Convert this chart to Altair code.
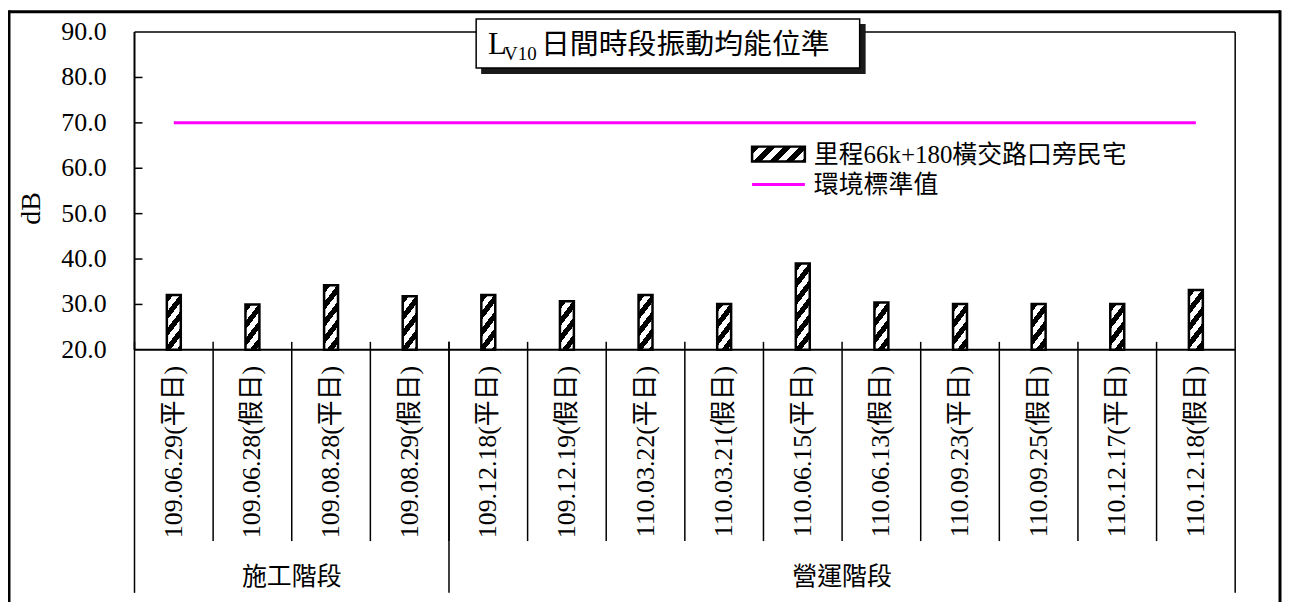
import math
import altair as alt
import pandas as pd

# ---------------- data ----------------
dates = [
    "109.06.29(平日)", "109.06.28(假日)", "109.08.28(平日)", "109.08.29(假日)",
    "109.12.18(平日)", "109.12.19(假日)", "110.03.22(平日)", "110.03.21(假日)",
    "110.06.15(平日)", "110.06.13(假日)", "110.09.23(平日)", "110.09.25(假日)",
    "110.12.17(平日)", "110.12.18(假日)",
]
values = [32.1, 30.0, 34.2, 31.8, 32.1, 30.7, 32.1, 30.1, 39.0, 30.4, 30.1, 30.1, 30.1, 33.2]
phases = ["施工階段"] * 4 + ["營運階段"] * 10
phase_names = ["施工階段", "營運階段"]
phase_anchor = [dates[2], dates[9]]       # boundary at centre of each group
group_starts = [dates[0], dates[4]]
std_value = 70
y_ticks = [20, 30, 40, 50, 60, 70, 80, 90]
inner_ticks = [30, 40, 50, 60, 70, 80]
series_name = "里程66k+180橫交路口旁民宅"
std_name = "環境標準值"
title_main = "L"
title_sub = "V10"
title_rest = "日間時段振動均能位準"
y_title = "dB"

# ---------------- layout ----------------
PLOT_W, PLOT_H = 1105, 319
Y_MIN, Y_MAX = 20, 90
BAR_W = 14
PX_PER_DB = PLOT_H / (Y_MAX - Y_MIN)
SERIF = "Liberation Serif"
MIXED = "Liberation Serif, Noto Sans CJK TC"
CJK = "Noto Sans CJK TC"


def hatch(W, H, m=1.3, P=17.0):
    """Diagonal '/' stripe fill built from a sharp-stop linear gradient."""
    A = m * W
    L = A + H
    k = L / (A * A + H * H)
    gx, gy = k * A, k * H
    half = P / 2.0
    n = int(math.ceil(L / half))
    stops = []
    for j in range(n):
        c = "black" if j % 2 == 0 else "white"
        o1 = min(j * half / L, 1.0)
        o2 = min((j + 1) * half / L, 1.0)
        stops.append({"offset": round(o1, 4), "color": c})
        stops.append({"offset": round(o2, 4), "color": c})
    return {"gradient": "linear", "x1": 0, "y1": 0, "x2": gx, "y2": gy, "stops": stops}


df = pd.DataFrame({"date": dates, "value": values, "phase": phases,
                   "std": [std_value] * len(dates)})

xscale = alt.Scale(domain=dates, paddingInner=0, paddingOuter=0)
yscale = alt.Scale(domain=[Y_MIN, Y_MAX], nice=False, zero=False)

conds = []
for d, v in zip(dates, values):
    conds.append({"test": "datum.date === '%s'" % d,
                  "value": hatch(BAR_W, (v - Y_MIN) * PX_PER_DB)})

dummy = alt.Data(values=[{"a": 1}])

# frame lines
frame_top = alt.Chart(dummy).mark_rule(color="black", strokeWidth=1.5).encode(
    x=alt.value(0), x2=alt.value(PLOT_W), y=alt.value(0))
frame_left = alt.Chart(dummy).mark_rule(color="black", strokeWidth=2).encode(
    x=alt.value(0), y=alt.value(0), y2=alt.value(PLOT_H))
frame_right = alt.Chart(dummy).mark_rule(color="black", strokeWidth=1.5).encode(
    x=alt.value(PLOT_W), y=alt.value(0), y2=alt.value(PLOT_H + 244))
frame_bottom = alt.Chart(dummy).mark_rule(color="black", strokeWidth=2).encode(
    x=alt.value(0), x2=alt.value(PLOT_W), y=alt.value(PLOT_H))

# y axis: inward ticks and labels
yt = alt.Chart(pd.DataFrame({"t": inner_ticks})).mark_rule(color="black", strokeWidth=1.5).encode(
    y=alt.Y("t:Q", scale=yscale, axis=None), x=alt.value(0), x2=alt.value(8))
ylab = alt.Chart(pd.DataFrame({"t": y_ticks})).transform_calculate(
    lbl="format(datum.t, '.1f')").mark_text(
    font=SERIF, fontSize=26, color="black", align="right", baseline="middle").encode(
    y=alt.Y("t:Q", scale=yscale, axis=None), x=alt.value(-28), text="lbl:N")
ytitle = alt.Chart(dummy).mark_text(text=y_title, font=SERIF, fontSize=28, color="black",
                                    angle=270, align="center", baseline="middle").encode(
    x=alt.value(-103), y=alt.value(177))

# x axis: rotated labels
xlab = alt.Chart(df).mark_text(font=MIXED, fontSize=26, color="black", angle=270,
                               align="right", baseline="middle").encode(
    x=alt.X("date:N", scale=xscale, axis=None), y=alt.value(PLOT_H + 16), text="date:N")

# category separators
sep = alt.Chart(pd.DataFrame({"date": dates[1:]})).mark_rule(color="black", strokeWidth=1.5).encode(
    x=alt.X("date:N", scale=xscale, bandPosition=0, axis=None),
    y=alt.value(PLOT_H - 8), y2=alt.value(PLOT_H + 192))
grp = alt.Chart(pd.DataFrame({"date": group_starts})).mark_rule(color="black", strokeWidth=1.5).encode(
    x=alt.X("date:N", scale=xscale, bandPosition=0, axis=None),
    y=alt.value(PLOT_H - 8), y2=alt.value(PLOT_H + 244))

# bars
bars = alt.Chart(df).mark_bar(size=BAR_W, stroke="black", strokeWidth=2.5).encode(
    x=alt.X("date:N", scale=xscale, axis=None),
    y=alt.Y("value:Q", scale=yscale, axis=None),
    y2=alt.datum(Y_MIN),
    fill={"condition": conds, "value": "white"},
)

# standard line
std_line = alt.Chart(df).mark_line(color="#FF00FF", strokeWidth=3).encode(
    x=alt.X("date:N", scale=xscale, axis=None),
    y=alt.Y("std:Q", scale=yscale, axis=None))

# group labels
glabels = alt.Chart(pd.DataFrame({"phase": phase_names, "anchor": phase_anchor})).mark_text(
    font=CJK, fontSize=25, color="black", baseline="middle", align="center").encode(
    x=alt.X("anchor:N", scale=xscale, bandPosition=0, axis=None),
    y=alt.value(PLOT_H + 228), text="phase:N")

# legend
leg_sw = alt.Chart(dummy).mark_rect(stroke="black", strokeWidth=2.5, fill=hatch(53, 15, m=1.0, P=16)).encode(
    x=alt.value(620), x2=alt.value(673), y=alt.value(115), y2=alt.value(130))
leg_t1 = alt.Chart(dummy).mark_text(text=series_name, font=MIXED, fontSize=25, color="black",
                                    align="left", baseline="middle").encode(
    x=alt.value(682), y=alt.value(123))
leg_ln = alt.Chart(dummy).mark_rule(color="#FF00FF", strokeWidth=3).encode(
    x=alt.value(620), x2=alt.value(673), y=alt.value(153))
leg_t2 = alt.Chart(dummy).mark_text(text=std_name, font=MIXED, fontSize=25, color="black",
                                    align="left", baseline="middle").encode(
    x=alt.value(682), y=alt.value(154))

# title box
t_shadow = alt.Chart(dummy).mark_rect(fill="#1a1a1a").encode(
    x=alt.value(348), x2=alt.value(734), y=alt.value(-8), y2=alt.value(42))
t_box = alt.Chart(dummy).mark_rect(fill="white", stroke="black", strokeWidth=1.5).encode(
    x=alt.value(343), x2=alt.value(728), y=alt.value(-13), y2=alt.value(36))
t_L = alt.Chart(dummy).mark_text(text=title_main, font=SERIF, fontSize=31, color="black",
                                 align="left", baseline="alphabetic").encode(
    x=alt.value(355), y=alt.value(22))
t_sub = alt.Chart(dummy).mark_text(text=title_sub, font=SERIF, fontSize=19, color="black",
                                   align="left", baseline="alphabetic").encode(
    x=alt.value(371), y=alt.value(28))
t_rest = alt.Chart(dummy).mark_text(text=title_rest, font=CJK, fontSize=29, color="black",
                                    align="left", baseline="middle").encode(
    x=alt.value(408), y=alt.value(13))

# outer border
ob_top = alt.Chart(dummy).mark_rule(color="black", strokeWidth=3).encode(
    x=alt.value(-126), x2=alt.value(1150), y=alt.value(-20.5))
ob_left = alt.Chart(dummy).mark_rule(color="black", strokeWidth=3).encode(
    x=alt.value(-126), y=alt.value(-22), y2=alt.value(PLOT_H + 280))
ob_right = alt.Chart(dummy).mark_rule(color="black", strokeWidth=3).encode(
    x=alt.value(1150), y=alt.value(-22), y2=alt.value(PLOT_H + 280))

chart = alt.layer(
    frame_top, frame_left, frame_right, frame_bottom, yt, ylab, ytitle, xlab, sep, grp,
    bars, std_line, glabels, leg_sw, leg_t1, leg_ln, leg_t2,
    t_shadow, t_box, t_L, t_sub, t_rest, ob_top, ob_left, ob_right,
).properties(
    width=PLOT_W, height=PLOT_H,
    autosize=alt.AutoSizeParams(type="none"),
    padding={"left": 127, "top": 23, "right": 47, "bottom": 252},
    background="white",
).configure_view(stroke=None)

chart.save("out.html", embed_options={"renderer": "svg", "actions": False})
